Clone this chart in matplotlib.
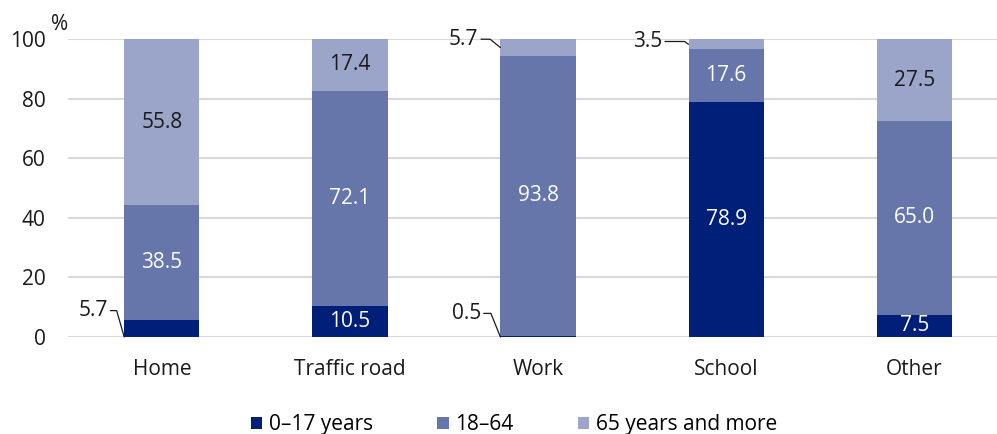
import matplotlib
matplotlib.use('Agg')
import numpy as np
from matplotlib import pyplot as plt

############## DATA ################

places = ['Home', 'Traffic road', 'Work', 'School', 'Other']
age_0_17 = [5.7, 10.5, 0.5, 78.9, 7.5]
age_18_64 = [38.5, 72.1, 93.8, 17.6, 65.0]
age_65_plus = [55.8, 17.4, 5.7, 3.5, 27.5]
series_names = ['0\u201317 years', '18\u201364', '65 years and more']
yticks = [0, 20, 40, 60, 80, 100]

colors = ['#001f78', '#6676aa', '#9aa5c9']
label_colors = ['white', 'white', '#1a1a1a']

# small segments get a label outside with a leader line:
# (series, place, anchor at segment 'bottom'/'mid', text offset in points, leader angle)
callouts = [(0, 0, 'bottom', (-12, 19), 106),
            (0, 2, 'bottom', (-14, 17), 112),
            (2, 2, 'mid', (-16, 6), 141),
            (2, 3, 'mid', (-19, 2), 145)]

plt.rcParams['font.family'] = ['Open Sans', 'DejaVu Sans']
plt.rcParams['font.size'] = 15

fig = plt.figure(figsize=(9.97, 4.34), dpi=100)
ax = fig.add_axes([0.068, 0.2235, 0.932, 0.6865])

x = np.arange(len(places))
width = 0.4
series = [age_0_17, age_18_64, age_65_plus]
skip = {(c[0], c[1]) for c in callouts}
bottom = np.zeros(len(places))
for i, vals in enumerate(series):
    vals = np.array(vals)
    ax.bar(x, vals, width, bottom=bottom, color=colors[i], label=series_names[i],
           zorder=3, linewidth=0)
    for j, v in enumerate(vals):
        if (i, j) in skip:
            continue
        ax.text(x[j], bottom[j] + v / 2, '{:.1f}'.format(v), ha='center', va='center',
                color=label_colors[i], zorder=4)
    bottom = bottom + vals

# leader-line labels
for i, j, where, off, angB in callouts:
    base = sum(series[k][j] for k in range(i))
    v = series[i][j]
    y = base if where == 'bottom' else base + v / 2
    ax.annotate('{:.1f}'.format(v), xy=(x[j] - width / 2, y), xytext=off,
                textcoords='offset points', ha='right', va='center', color='#1a1a1a',
                arrowprops=dict(arrowstyle='-', color='#1a1a1a', lw=0.9,
                                shrinkA=0, shrinkB=0,
                                connectionstyle='angle,angleA=0,angleB={},rad=0'.format(angB)))

ax.set_xlim(-0.5, 4.44)
ax.set_ylim(0, 100)
ax.set_yticks(yticks)
ax.set_xticks(x)
ax.set_xticklabels(places)
ax.tick_params(axis='both', length=0, colors='#1a1a1a')
ax.tick_params(axis='y', pad=16)
ax.tick_params(axis='x', pad=16)
ax.yaxis.grid(True, color='#d9d9d9', linewidth=1.5, zorder=0)
for s in ax.spines.values():
    s.set_visible(False)
ax.text(0.0, 1.015, '%', transform=ax.transAxes, ha='right', va='bottom', color='#1a1a1a')

ax.legend(loc='center', bbox_to_anchor=(0.48, -0.295), ncol=3, frameon=False,
          handlelength=0.55, handleheight=0.55, handletextpad=0.3, columnspacing=3.1,
          fontsize=15)

plt.savefig('out.png', dpi=100)
plt.close()
